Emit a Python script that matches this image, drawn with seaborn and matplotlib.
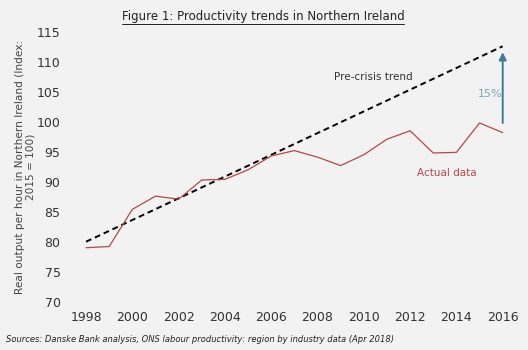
import numpy as np
import pandas as pd
import matplotlib
matplotlib.use("Agg")
import matplotlib.pyplot as plt
from matplotlib.lines import Line2D
import seaborn as sns

# --- data ---
years = [1998, 1999, 2000, 2001, 2002, 2003, 2004, 2005, 2006, 2007,
         2008, 2009, 2010, 2011, 2012, 2013, 2014, 2015, 2016]
actual = [79.0, 79.2, 85.4, 87.6, 87.1, 90.3, 90.4, 92.0, 94.3, 95.2,
          94.1, 92.7, 94.5, 97.1, 98.5, 94.8, 94.9, 99.8, 98.2]
trend_years = [1998, 2016]
trend_vals = [80.0, 112.6]
gap_label = "15%"
arrow_from, arrow_to = 99.8, 111.6

BG = "#f2f2f2"
RED = "#b5474b"
BLUE = "#3d7b99"

sns.set_theme(style="white", rc={"figure.facecolor": BG, "axes.facecolor": BG,
                                 "savefig.facecolor": BG})
plt.rcParams['font.family'] = ['DejaVu Sans']

fig = plt.figure(figsize=(5.28, 3.5), dpi=100)
ax = fig.add_axes([0.141, 0.138, 0.833, 0.771])

df_actual = pd.DataFrame({"year": years, "value": actual})
df_trend = pd.DataFrame({"year": trend_years, "value": trend_vals})

sns.lineplot(data=df_trend, x="year", y="value", ax=ax, color="black",
             linewidth=1.4, linestyle=(0, (3, 2)))
sns.lineplot(data=df_actual, x="year", y="value", ax=ax, color=RED, linewidth=0.9)

# gap arrow
ax.annotate("", xy=(2016, arrow_to), xytext=(2016, arrow_from),
            arrowprops=dict(arrowstyle="-|>", color=BLUE, lw=1.4,
                            mutation_scale=11, shrinkA=0, shrinkB=0))
ax.text(2015.45, 104.7, gap_label, color="#7ea3b8", fontsize=8,
        ha="center", va="center")
ax.text(2010.4, 107.5, "Pre-crisis trend", color="#333333", fontsize=7.5,
        ha="center", va="center")
ax.text(2013.6, 91.4, "Actual data", color=RED, fontsize=7.5,
        ha="center", va="center")

ax.set_xlim(1997.5, 2016.5)
ax.set_ylim(70, 115)
ax.set_xticks(range(1998, 2017, 2))
ax.set_yticks(range(70, 116, 5))
ax.tick_params(axis="both", length=0, labelsize=9, colors="#333333")
ax.tick_params(axis="y", pad=10)
ax.tick_params(axis="x", pad=7)
for s in ax.spines.values():
    s.set_visible(False)
ax.set_xlabel("")
ax.set_ylabel("Real output per hour in Northern Ireland (Index:\n2015 = 100)",
              fontsize=7.6, color="#444444", labelpad=1, linespacing=1.05)

title = fig.text(0.498, 0.952, "Figure 1: Productivity trends in Northern Ireland",
                 fontsize=8.5, ha="center", va="center", color="#222222")
fig.text(0.012, 0.03, "Sources: Danske Bank analysis, ONS labour productivity: "
         "region by industry data (Apr 2018)", fontsize=6, style="italic",
         ha="left", va="center", color="#222222")

# underline the title
fig.canvas.draw()
bb = title.get_window_extent().transformed(fig.transFigure.inverted())
fig.add_artist(Line2D([bb.x0, bb.x1], [bb.y0 - 0.002, bb.y0 - 0.002],
                      transform=fig.transFigure, color="#222222", lw=0.7))

fig.savefig("out.png", dpi=100)
